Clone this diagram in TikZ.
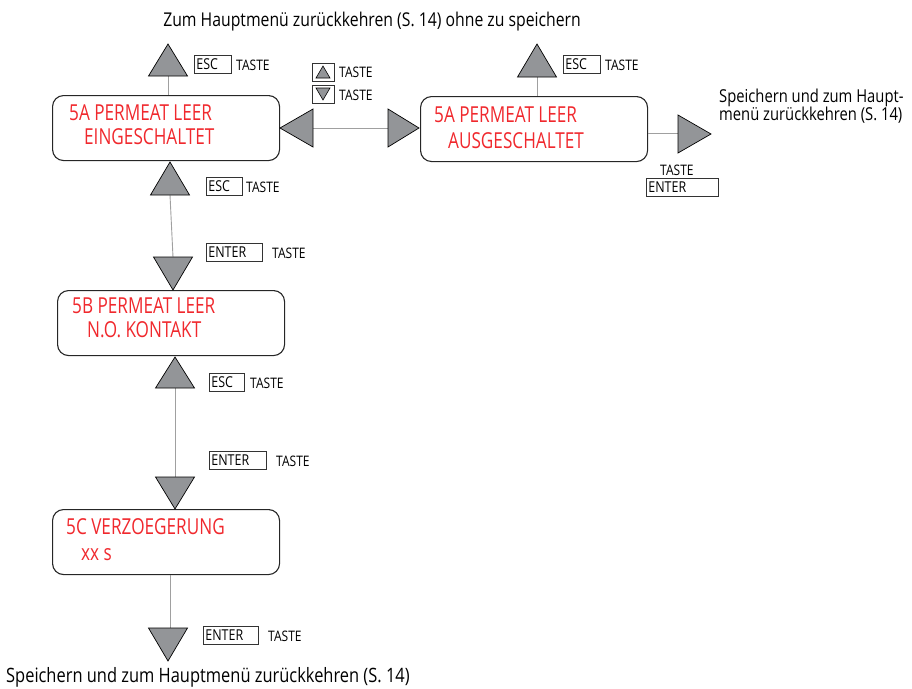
\documentclass[tikz,border=0pt]{standalone}
\usepackage{fontspec}
\setmainfont{Open Sans}[FakeStretch=0.83]
\newfontfamily\redfont{Open Sans}[FakeStretch=0.78]
\definecolor{trigray}{HTML}{939598}
\definecolor{linegray}{HTML}{A0A0A0}
\definecolor{menured}{HTML}{F0282D}
\newcommand\upTri[3]{\filldraw[tri] (#1-19.5,#2) -- (#1+19.5,#2) -- (#1,#2-#3) -- cycle;}
\newcommand\downTri[3]{\filldraw[tri] (#1-19.5,#2) -- (#1+19.5,#2) -- (#1,#2+#3) -- cycle;}
\newcommand\leftTri[3]{\filldraw[tri] (#1,#2-19) -- (#1,#2+19) -- (#1-#3,#2) -- cycle;}
\newcommand\rightTri[3]{\filldraw[tri] (#1,#2-19) -- (#1,#2+19) -- (#1+#3,#2) -- cycle;}
\begin{document}
\begin{tikzpicture}[x=1pt,y=-1pt,
  tri/.style={fill=trigray,draw=black,line width=0.7pt,line join=miter},
  conn/.style={draw=linegray,line width=0.9pt},
  menubox/.style={draw=black!85,line width=1.1pt,rounded corners=11pt,minimum width=227pt,minimum height=65pt,anchor=north west},
  menutext/.style={anchor=base west,inner sep=0pt,font=\redfont\fontsize{22}{24}\selectfont,text=menured},
  key/.style={draw=black!80,line width=0.8pt,anchor=north west,minimum height=18pt,inner sep=0pt,font=\fontsize{15}{15}\selectfont},
  taste/.style={anchor=base west,inner sep=0pt,font=\fontsize{14.5}{15}\selectfont},
  note/.style={anchor=base west,inner sep=0pt,font=\fontsize{19}{20}\selectfont,align=left}]
\useasboundingbox (0,0) rectangle (912,688);

% menu boxes
\node[menubox] (ein) at (52,95) {};
\node[menubox] (aus) at (420,96) {};
\node[menubox] (nok) at (57,290) {};
\node[menubox] (verz) at (52,509) {};

\node[menutext] (t1a) at (69,120) {5A PERMEAT LEER};
\node[menutext] (t1b) at (84,144) {EINGESCHALTET};
\node[menutext] (t2a) at (434,122) {5A PERMEAT LEER};
\node[menutext] (t2b) at (448,148) {AUSGESCHALTET};
\node[menutext] (t3a) at (72,313) {5B PERMEAT LEER};
\node[menutext] (t3b) at (87,337) {N.O. KONTAKT};
\node[menutext] (t4a) at (66,534) {5C VERZOEGERUNG};
\node[menutext] (t4b) at (81,560) {xx s};

% connectors
\coordinate (escA) at (168,76);
\coordinate (escB) at (537,77);
\coordinate (lt) at (313,128);
\coordinate (rt) at (388,128);
\coordinate (upB) at (170,195);
\coordinate (dnB) at (173,257);
\coordinate (upC) at (175,388);
\coordinate (dnC) at (175,477);
\coordinate (dnE) at (170,628);
\coordinate (rE) at (678,133);
\draw[conn] (escA) -- (escA |- ein.north);
\draw[conn] (escB) -- (escB |- aus.north);
\draw[conn] (lt) -- (rt);
\draw[conn] (upB) -- (dnB);
\draw[conn] (upC) -- (dnC);
\draw[conn] (dnE |- verz.south) -- (dnE);
\draw[conn] (aus.east |- rE) -- (rE);

% triangles
\upTri{168}{76}{32}
\upTri{537}{77}{33}
\upTri{170}{195}{33}
\downTri{173}{257}{33}
\upTri{175}{388}{31}
\downTri{175}{477}{32}
\downTri{168}{628}{33}
\leftTri{313}{128}{33}
\rightTri{388}{128}{31}
\rightTri{678}{134}{33}

% key labels
\node[key,minimum width=37pt,text width=35pt,align=left] (k1) at (194,55) {\hspace{1pt}ESC};
\node[taste] (k1t) at (236,70) {TASTE};
\node[key,minimum width=37pt,text width=35pt,align=left] (k2) at (563,55) {\hspace{1pt}ESC};
\node[taste] (k2t) at (605,70) {TASTE};
\node[key,minimum width=36pt,text width=34pt,align=left] (k3) at (206,177) {\hspace{1pt}ESC};
\node[taste] (k3t) at (246,192) {TASTE};
\node[key,minimum width=56pt,text width=54pt,align=left] (k4) at (206,243) {\hspace{1pt}ENTER};
\node[taste] (k4t) at (272,258) {TASTE};
\node[key,minimum width=35pt,text width=33pt,align=left] (k5) at (209,373) {\hspace{1pt}ESC};
\node[taste] (k5t) at (250,388) {TASTE};
\node[key,minimum width=57pt,text width=55pt,align=left] (k6) at (209,451) {\hspace{1pt}ENTER};
\node[taste] (k6t) at (276,466) {TASTE};
\node[key,minimum width=55pt,text width=53pt,align=left] (k7) at (203,626) {\hspace{1pt}ENTER};
\node[taste] (k7t) at (268,641) {TASTE};
\node[key,minimum width=72pt,text width=70pt,align=left] (k8) at (646,178) {\hspace{1pt}ENTER};
\node[taste] (k8t) at (660,175) {TASTE};

% arrow key boxes
\node[key,minimum width=22pt] (ku) at (312,63) {};
\node[key,minimum width=22pt] (kd) at (312,85) {};
\filldraw[tri,line width=0.6pt] (316,78) -- (330,78) -- (323,66) -- cycle;
\filldraw[tri,line width=0.6pt] (316,88) -- (330,88) -- (323,100) -- cycle;
\node[taste] (kut) at (339,77) {TASTE};
\node[taste] (kdt) at (339,100) {TASTE};

% notes
\node[note,anchor=base] (top) at (372,26) {Zum Hauptmenü zurückkehren (S. 14) ohne zu speichern};
\node[note,font=\fontsize{19.8}{20}\selectfont] (bot) at (6,682) {Speichern und zum Hauptmenü zurückkehren (S. 14)};
\node[note,font=\fontsize{17.8}{18}\selectfont] (rnote) at (719,120) {Speichern und zum Haupt-\\menü zurückkehren (S. 14)};
\end{tikzpicture}
\end{document}
